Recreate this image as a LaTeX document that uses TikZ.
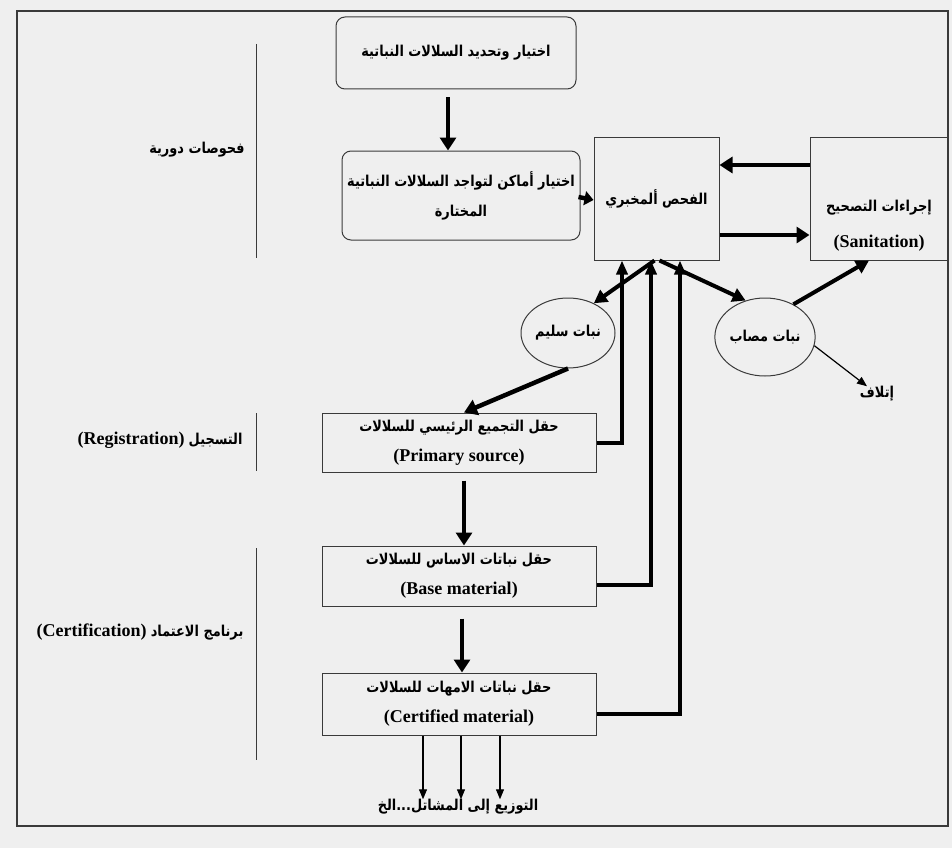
\documentclass[tikz,border=0pt]{standalone}
\usepackage{fontspec}
\usetikzlibrary{arrows.meta,shapes.geometric}
\TeXXeTstate=1
\newfontfamily\arfont[Script=Arabic]{DejaVu Sans}
\newfontfamily\latfont{Liberation Serif}
\newcommand{\AR}[1]{\scalebox{0.86}[1]{\arfont\bfseries\fontsize{15pt}{30pt}\selectfont\beginR #1\endR}}
\newcommand{\LT}[1]{{\latfont\bfseries\fontsize{18pt}{30pt}\selectfont #1}}
\definecolor{bg}{HTML}{EFEFEF}
\definecolor{ln}{HTML}{3A3A3A}
\tikzset{
  box/.style={draw=ln, line width=1pt, inner sep=0pt, align=center, font=\fontsize{13pt}{30pt}\selectfont},
  rbox/.style={box, rounded corners=9pt},
  oval/.style={ellipse, draw=ln, line width=1pt, inner sep=0pt, font=\fontsize{13pt}{30pt}\selectfont},
  txt/.style={inner sep=0pt, align=center, font=\fontsize{13pt}{30pt}\selectfont},
  sep/.style={draw=ln, line width=1pt},
  big/.style={line width=4.5pt, -{Triangle[length=13pt,width=16pt]}},
  small/.style={line width=4.5pt, -{Triangle[length=9pt,width=14pt]}},
  mid/.style={line width=4pt, -{Triangle[length=13pt,width=14pt]}},
  fb/.style={line width=4pt, -{Triangle[length=14pt,width=11pt]}},
  thinarrow/.style={line width=1.2pt, -{Triangle[length=10pt,width=8pt]}}
}
\begin{document}
\begin{tikzpicture}[x=1pt,y=-1pt]
\fill[bg] (0,0) rectangle (952,848);
\useasboundingbox (0,0) rectangle (952,848);
\draw[ln, line width=1.5pt] (17,11) rectangle (948,826);

% main boxes
\node[rbox, minimum width=240pt, minimum height=72pt] (sel) at (456,53) {\AR{اختيار وتحديد السلالات النباتية}};
\node[rbox, minimum width=238pt, minimum height=89pt] (loc) at (461,195.5) {\AR{اختيار أماكن لتواجد السلالات النباتية}\\ \AR{المختارة}};
\node[box, minimum width=125pt, minimum height=123pt] (lab) at (656.5,198.5) {\AR{الفحص ألمخبري}};
\node[box, minimum width=138pt, minimum height=123pt] (san) at (879,198.5) {};
\node[txt] (santext) at (879,226) {\AR{إجراءات التصحيح}\\[6pt] \LT{(Sanitation)}};

\node[oval, minimum width=94pt, minimum height=70pt] (ok) at (568,333) {\AR{نبات سليم}};
\node[oval, minimum width=96pt, minimum height=78pt] (bad) at (765,337) {\AR{نبات مصاب}};
\node[txt] (kill) at (877,394) {\AR{إتلاف}};

\node[box, minimum width=274pt, minimum height=59pt] (prim) at (459,442.5) {\AR{حقل التجميع الرئيسي للسلالات}\\ \LT{(Primary source)}};
\node[box, minimum width=274pt, minimum height=60pt] (base) at (459,576) {\AR{حقل نباتات الاساس للسلالات}\\ \LT{(Base material)}};
\node[box, minimum width=274pt, minimum height=62pt] (cert) at (459,704) {\AR{حقل نباتات الامهات للسلالات}\\ \LT{(Certified material)}};
\node[txt] (dist) at (458,807) {\AR{التوزيع إلى المشاتل...الخ}};

% left labels
\node[txt] (periodic) at (197,150) {\AR{فحوصات دورية}};
\node[txt] (reg) at (160,440) {\LT{(Registration)} \AR{التسجيل}};
\node[txt] (cer) at (140,632) {\LT{(Certification)} \AR{برنامج الاعتماد}};
\coordinate (s1a) at (256,44);  \coordinate (s1b) at (256,258);
\coordinate (s2a) at (256,413); \coordinate (s2b) at (256,471);
\coordinate (s3a) at (256,548); \coordinate (s3b) at (256,760);
\draw[sep] (s1a) -- (s1b);
\draw[sep] (s2a) -- (s2b);
\draw[sep] (s3a) -- (s3b);

% connectors
\draw[big] ([xshift=-8pt,yshift=-8pt]sel.south) -- ([xshift=-13pt]loc.north);
\draw[small] ([xshift=-2pt,yshift=-1.5pt]loc.east) -- ([yshift=-1.5pt]lab.west);
\draw[big] ([yshift=33.5pt]san.west) -- ([yshift=33.5pt]lab.east);
\draw[big] ([yshift=-36.5pt]lab.east) -- ([yshift=-36.5pt]san.west);
\draw[mid] ([xshift=-2pt]lab.south) -- (ok.49);
\draw[mid] ([xshift=3pt]lab.south) -- (bad.118);
\draw[mid] (bad.49) -- ([xshift=-10pt]san.south);
\draw[thinarrow] (bad.-10) -- ([xshift=-10pt]kill.north);
\draw[big] (ok.south) -- ([xshift=5pt]prim.north);
\draw[fb] (prim.east) -| ([xshift=-34.5pt]lab.south);
\draw[fb] ([yshift=-9pt]base.east) -| ([xshift=-5.5pt]lab.south);
\draw[fb] ([yshift=-10pt]cert.east) -| ([xshift=23.5pt]lab.south);
\draw[big] ([xshift=5pt,yshift=-8pt]prim.south) -- ([xshift=5pt]base.north);
\draw[big] ([xshift=3pt,yshift=-12pt]base.south) -- ([xshift=3pt]cert.north);
\draw[thinarrow] ([xshift=-36pt]cert.south) -- ([xshift=-36pt]cert.south |- dist.north);
\draw[thinarrow] ([xshift=2pt]cert.south) -- ([xshift=2pt]cert.south |- dist.north);
\draw[thinarrow] ([xshift=41pt]cert.south) -- ([xshift=41pt]cert.south |- dist.north);
\end{tikzpicture}
\end{document}
